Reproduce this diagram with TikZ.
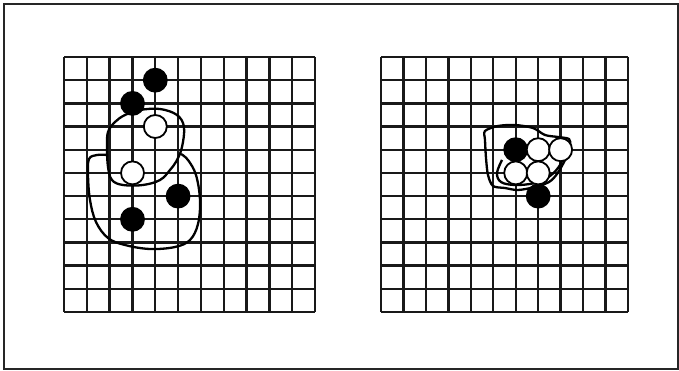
\documentclass[tikz,border=0pt]{standalone}
\begin{document}
\begin{tikzpicture}[x=1pt,y=-1pt,
  gridline/.style={line width=2.3pt,black!90},
  blob/.style={line width=2.3pt,black,line join=round},
  stone/.style={circle,draw=black,line width=1.8pt,minimum size=23pt,inner sep=0pt},
  blackstone/.style={stone,fill=black},
  whitestone/.style={stone,fill=white}]
\useasboundingbox (0,0) rectangle (679,371);
\fill[white] (0,0) rectangle (679,371);
\draw[line width=1.8pt,black!85] (4,4) rectangle (678,369);
% left grid
\foreach \i in {0,...,11}{
  \draw[gridline] ({64+\i*22.82},57) -- ({64+\i*22.82},312);
  \draw[gridline] (64,{57+\i*23.18}) -- (315,{57+\i*23.18});
}
% right grid
\foreach \i in {0,...,11}{
  \draw[gridline] ({381+\i*22.45},57) -- ({381+\i*22.45},312);
  \draw[gridline] (381,{57+\i*23.18}) -- (628,{57+\i*23.18});
}
% left blobs
\draw[blob] plot[smooth cycle,tension=0.6] coordinates {(125,115) (140,110) (160,109) (177,115) (184,127) (182,147) (177,160) (170,170) (160,180) (143,185) (123,185) (112,180) (108,167) (107,147) (108,132) (115,122)};
\draw[blob] plot[smooth,tension=0.6] coordinates {(181,154) (188,160) (196,175) (200,200) (198,224) (190,240) (175,247) (150,249) (125,245) (108,238) (96,222) (90,200) (88,175) (89,159) (97,155) (107,155)};
% right blobs
\draw[blob] plot[smooth cycle,tension=0.5] coordinates {(485,131) (498,126) (515,125) (533,128) (545,135) (558,137) (569,139) (570,146) (565,160) (557,174) (549,182) (535,187) (518,190) (505,188) (493,186) (488,175) (486,158) (485,140)};
\draw[blob] plot[smooth,tension=0.6] coordinates {(502,160) (497,173) (501,182) (515,185) (535,183) (550,176) (560,165) (565,152)};
% left stones
\node[blackstone] (l1) at (155.3,80.2) {};
\node[blackstone] (l2) at (132.5,103.4) {};
\node[whitestone] (l3) at (155.3,126.5) {};
\node[whitestone] (l4) at (132.5,172.9) {};
\node[blackstone] (l5) at (178.1,196.1) {};
\node[blackstone] (l6) at (132.5,219.3) {};
% right stones
\node[blackstone] (r1) at (515.7,149.7) {};
\node[blackstone] (r6) at (538.2,196.1) {};
\node[whitestone] (r2) at (538.2,149.7) {};
\node[whitestone] (r3) at (560.6,149.7) {};
\node[whitestone] (r4) at (515.7,172.9) {};
\node[whitestone] (r5) at (538.2,172.9) {};
\end{tikzpicture}
\end{document}
